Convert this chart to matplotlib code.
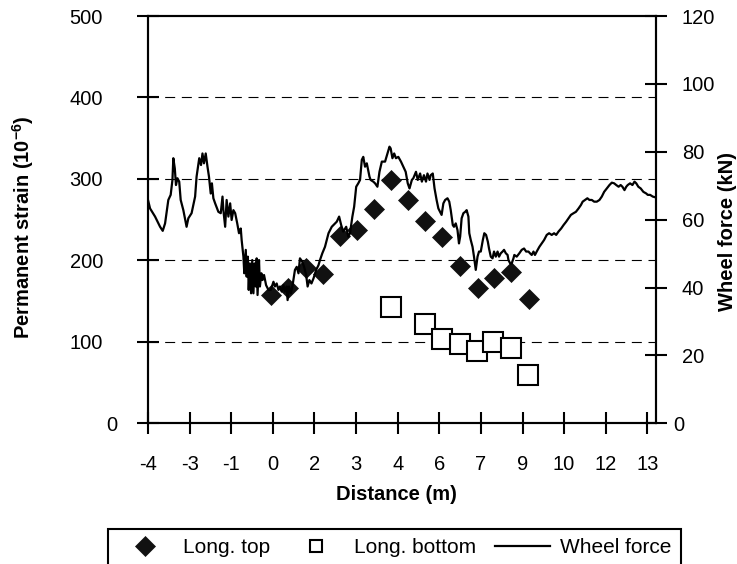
import numpy as np
import matplotlib
matplotlib.use('Agg')
import matplotlib.pyplot as plt
from matplotlib.lines import Line2D
from matplotlib.transforms import ScaledTranslation

plt.rcParams['font.family'] = ['Liberation Sans', 'DejaVu Sans']
plt.rcParams['mathtext.fontset'] = 'custom'
plt.rcParams['mathtext.rm'] = 'Liberation Sans:bold'
plt.rcParams['mathtext.default'] = 'rm'
plt.rcParams['lines.scale_dashes'] = False

# ---------------- data ----------------
top_x = [0.18, 0.77, 1.36, 1.94, 2.53, 3.11, 3.69, 4.26, 4.83, 5.42, 6.00, 6.60, 7.19, 7.75, 8.34, 8.93]
top_strain = [157.6, 165.6, 190.9, 183.6, 229.8, 237.2, 262.9, 298.5, 274.0, 248.6, 228.2, 192.6, 166.4, 177.9, 185.6, 152.5]

bottom_x = [4.26, 5.42, 5.98, 6.60, 7.16, 7.73, 8.33, 8.92]
bottom_strain = [142.3, 121.8, 103.4, 96.9, 89.1, 99.4, 92.0, 59.3]

force_x = [
    -4.00, -3.93, -3.76, -3.59, -3.50, -3.42, -3.31, -3.23, -3.17, -3.14,
    -3.09, -3.05, -3.00, -2.94, -2.89, -2.80, -2.69, -2.63, -2.52, -2.40,
    -2.35, -2.26, -2.20, -2.15, -2.10, -2.04, -1.98, -1.93, -1.87, -1.83,
    -1.78, -1.72, -1.61, -1.53, -1.47, -1.44, -1.38, -1.33, -1.27, -1.21,
    -1.16, -1.10, -1.04, -0.97, -0.91, -0.85, -0.82, -0.76, -0.73, -0.68,
    -0.65, -0.61, -0.58, -0.54, -0.50, -0.46, -0.42, -0.38, -0.34, -0.31,
    -0.28, -0.23, -0.20, -0.15, -0.11, -0.06, 0.01, 0.09, 0.17, 0.26,
    0.31, 0.37, 0.43, 0.48, 0.54, 0.60, 0.65, 0.71, 0.74, 0.79,
    0.85, 0.91, 0.99, 1.05, 1.11, 1.16, 1.24, 1.30, 1.37, 1.42,
    1.48, 1.55, 1.62, 1.71, 1.79, 1.84, 1.92, 2.01, 2.13, 2.24,
    2.41, 2.49, 2.56, 2.63, 2.73, 2.80, 2.86, 2.94, 3.00, 3.07,
    3.14, 3.20, 3.26, 3.31, 3.37, 3.43, 3.52, 3.56, 3.65, 3.71,
    3.79, 3.86, 3.94, 4.05, 4.13, 4.20, 4.24, 4.30, 4.36, 4.42,
    4.50, 4.59, 4.67, 4.75, 4.82, 4.88, 4.96, 5.01, 5.10, 5.16,
    5.24, 5.30, 5.37, 5.44, 5.49, 5.56, 5.60, 5.67, 5.73, 5.80,
    5.86,
    5.97, 6.03, 6.09, 6.17, 6.23, 6.28, 6.35, 6.39, 6.45, 6.51,
    6.56, 6.60, 6.65, 6.71, 6.77, 6.82, 6.88, 6.91, 6.96, 7.02,
    7.07, 7.13, 7.19, 7.24, 7.30, 7.37, 7.42, 7.48, 7.54, 7.58,
    7.64, 7.70, 7.75, 7.81, 7.87, 7.92, 7.98, 8.04, 8.09, 8.15,
    8.21, 8.24, 8.30, 8.35, 8.41, 8.44, 8.52, 8.61, 8.69, 8.77,
    8.84, 8.92, 8.97, 9.03, 9.09, 9.14, 9.20, 9.29, 9.37, 9.45,
    9.54, 9.62, 9.71, 9.79, 9.86, 9.94, 10.03, 10.11, 10.20, 10.28,
    10.36, 10.45, 10.53, 10.62, 10.70, 10.76, 10.84, 10.92, 10.99, 11.07,
    11.15, 11.24, 11.33, 11.41, 11.49, 11.58, 11.67, 11.75, 11.83, 11.90,
    11.98, 12.05, 12.11, 12.18, 12.24, 12.29, 12.37, 12.45, 12.52, 12.58,
    12.65, 12.73, 12.82, 12.92, 12.97, 13.05, 13.14, 13.22,
]
force_kN = [
    65.8, 63.3, 60.9, 57.9, 56.7, 58.9, 65.8, 67.3, 71.7, 78.1,
    75.1, 70.2, 72.2, 71.2, 65.8, 62.8, 57.9, 60.4, 61.9, 66.8,
    72.7, 78.1, 76.1, 79.5, 76.6, 79.5, 75.6, 72.7, 67.7, 70.7,
    66.3, 64.8, 62.3, 61.9, 66.8, 62.8, 57.9, 65.8, 60.9, 64.8,
    59.9, 62.8, 61.9, 58.9, 56.0, 57.4, 54.0, 49.1, 44.2, 51.1,
    43.2, 49.1, 39.3, 47.1, 38.3, 48.1, 38.3, 47.1, 40.3, 48.6,
    37.8, 48.1, 40.3, 44.2, 42.2, 43.7, 40.7, 39.3, 39.3, 41.7,
    40.3, 41.2, 39.3, 40.3, 38.8, 40.7, 38.8, 40.3, 36.3, 40.3,
    38.3, 40.7, 45.2, 46.1, 44.2, 48.6, 47.6, 46.1, 43.7, 40.3,
    42.2, 41.2, 42.7, 45.2, 46.6, 48.1, 50.1, 52.0, 56.0, 57.9,
    59.4, 60.9, 58.4, 56.5, 57.9, 55.0, 56.0, 60.9, 63.8, 69.7,
    70.7, 71.7, 77.6, 78.5, 75.6, 76.6, 72.7, 71.7, 71.2, 70.7,
    69.7, 74.1, 77.1, 77.1, 79.5, 81.5, 81.0, 78.1, 79.5, 78.1,
    78.5, 77.1, 75.6, 74.1, 70.7, 69.2, 71.7, 72.2, 74.1, 71.7,
    73.6, 71.2, 73.1, 71.2, 73.6, 71.7, 73.1, 73.6, 69.2, 65.8,
    63.3,
    61.4, 64.8, 65.8, 66.3, 65.3, 62.8, 58.4, 57.9, 58.9, 56.9,
    53.0, 55.0, 60.4, 61.9, 62.3, 62.8, 60.9, 56.0, 54.0, 52.0,
    49.1, 45.2, 49.1, 50.6, 50.6, 54.0, 56.0, 55.5, 53.5, 51.5,
    49.1, 48.6, 50.6, 49.1, 50.6, 49.1, 50.1, 50.6, 51.1, 50.1,
    49.6, 48.1, 47.1, 47.1, 48.6, 49.6, 49.1, 50.1, 51.1, 51.5,
    50.6, 50.6, 50.1, 49.6, 50.6, 49.6, 50.6, 52.0, 53.0, 54.0,
    55.5, 56.0, 55.5, 56.0, 55.5, 56.5, 57.4, 58.4, 59.4, 60.4,
    61.4, 61.9, 62.3, 63.3, 64.3, 65.3, 65.8, 66.3, 65.8, 65.8,
    65.3, 65.3, 65.8, 66.8, 68.2, 69.2, 70.2, 70.9, 70.7, 70.2,
    69.7, 70.2, 69.7, 68.7, 69.7, 70.2, 70.7, 70.2, 71.2, 70.7,
    69.7, 69.2, 68.2, 67.7, 67.3, 67.3, 66.8, 66.6,
]

x_tick_labels = ['-4', '-3', '-1', '0', '2', '3', '4', '6', '7', '9', '10', '12', '13']
strain_ticks = [0, 100, 200, 300, 400, 500]
force_ticks = [0, 20, 40, 60, 80, 100, 120]
grid_levels = [100, 200, 300, 400]

# ---------------- axis config ----------------
x_first, x_step, x_max = -4.0, 1.413, 13.24
FS = 14.5
TL = 16
LW = 1.6

fig = plt.figure(figsize=(7.37, 5.64), dpi=100)
ax = fig.add_axes([148 / 737, 1 - 423.3 / 564, (655.7 - 148) / 737, (423.3 - 16) / 564])
ax2 = ax.twinx()

# gridlines
for g in grid_levels:
    ax.axhline(g, color='black', lw=0.8, linestyle=(0, (7.2, 4.8)), zorder=0.5)

ax.plot(top_x, top_strain, linestyle='none', marker='D', ms=10.4, mfc='#111111',
        mec='#111111', mew=0.5, zorder=3)
ax.plot(bottom_x, bottom_strain, linestyle='none', marker='s', ms=14.4, mfc='white',
        mec='black', mew=1.5, zorder=3)
ax2.plot(force_x, force_kN, color='black', lw=LW, zorder=4)

ax.set_xlim(x_first, x_max)
ax.set_ylim(0, 500)
ax2.set_ylim(0, 120)

xt = x_first + x_step * np.arange(len(x_tick_labels))
ax.set_xticks(xt)
ax.set_xticklabels(x_tick_labels)
ax.set_yticks(strain_ticks)
ax.set_yticklabels([str(v) for v in strain_ticks])
ax2.set_yticks(force_ticks)
ax2.set_yticklabels([str(v) for v in force_ticks])

for a in (ax, ax2):
    for s in a.spines.values():
        s.set_linewidth(1.5)
ax.tick_params(axis='x', direction='inout', length=TL, width=1.5, labelsize=FS, pad=14.8)
ax.tick_params(axis='y', direction='inout', length=TL, width=1.5, labelsize=FS, pad=24.4)
ax2.tick_params(axis='y', direction='inout', length=TL, width=1.5, labelsize=FS, pad=10.9)

# zero labels sit closer to the axes in the reference
lab0 = ax.get_yticklabels()[0]
lab0.set_transform(lab0.get_transform() + ScaledTranslation(0.14, 0, fig.dpi_scale_trans))
lab0r = ax2.get_yticklabels()[0]
lab0r.set_transform(lab0r.get_transform() + ScaledTranslation(-0.09, 0, fig.dpi_scale_trans))

ax.set_xlabel('Distance (m)', fontsize=FS, fontweight='bold')
ax.xaxis.set_label_coords(0.4895, -0.176)
ax.xaxis.label.set_va('center')
ax.set_ylabel('Permanent strain (10$^{-6}$)', fontsize=FS, fontweight='bold')
ax.yaxis.set_label_coords(-0.246, 0.482)
ax.yaxis.label.set_va('center')
ax2.set_ylabel('Wheel force (kN)', fontsize=FS, fontweight='bold')
ax2.yaxis.set_label_coords(1.1424, 0.47)
ax2.yaxis.label.set_va('center')
ax2.yaxis.label.set_rotation(90)

handles = [
    Line2D([], [], linestyle='none', marker='D', ms=10.4, mfc='#111111', mec='#111111', mew=0.5),
    Line2D([], [], linestyle='none', marker='s', ms=8.6, mfc='white', mec='black', mew=1.5),
    Line2D([], [], color='black', lw=LW),
]
leg = fig.legend(handles, ['Long. top', 'Long. bottom', 'Wheel force'], ncol=3,
                 loc='upper left', bbox_to_anchor=(108.3 / 737, 1 - 529 / 564),
                 bbox_transform=fig.transFigure, borderaxespad=0, fontsize=FS + 0.5,
                 handlelength=2.64, handletextpad=0.5, columnspacing=0.9,
                 borderpad=0.44, frameon=True, fancybox=False, framealpha=1)
leg.get_frame().set_edgecolor('black')
leg.get_frame().set_linewidth(1.5)

fig.savefig('out.png', dpi=100)
